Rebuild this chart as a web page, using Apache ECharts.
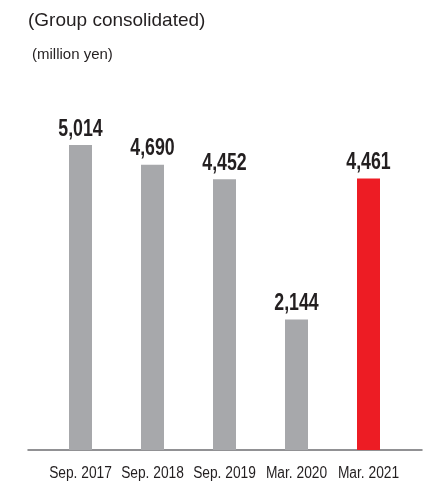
<!DOCTYPE html>
<html>
<head>
<meta charset="utf-8">
<script src="https://cdn.jsdelivr.net/npm/echarts@6/dist/echarts.min.js"></script>
<style>
  html, body { margin: 0; padding: 0; background: #ffffff; }
  #chart { width: 429px; height: 485px; }
</style>
</head>
<body>
<div id="chart"></div>
<script>
// Periods shown along the bottom axis
const periods = ['Sep. 2017', 'Sep. 2018', 'Sep. 2019', 'Mar. 2020', 'Mar. 2021'];
// Values in million yen
const values = [5014, 4690, 4452, 2144, 4461];
// Bar colours: past periods in grey, latest period highlighted in red
const barColors = ['#a7a8ab', '#a7a8ab', '#a7a8ab', '#a7a8ab', '#ed1c24'];

const chart = echarts.init(document.getElementById('chart'), null, { renderer: 'canvas' });

// Condensed text: a regular face squeezed horizontally around its anchor point
function condensedText(x, y, text, font, squeeze, vAlign) {
  return {
    type: 'text',
    x: x,
    y: y,
    scaleX: squeeze,
    style: {
      x: 0, y: 0,
      text: text,
      font: font,
      fill: '#231f20',
      align: 'center',
      verticalAlign: vAlign
    }
  };
}

chart.setOption({
  animation: false,
  backgroundColor: '#ffffff',
  title: [
    {
      text: '(Group consolidated)',
      left: 28, top: 11, padding: 0,
      textStyle: { fontFamily: 'Liberation Sans', fontSize: 19, fontWeight: 'normal', color: '#231f20' }
    },
    {
      text: '(million yen)',
      left: 32, top: 47, padding: 0,
      textStyle: { fontFamily: 'Liberation Sans', fontSize: 15, fontWeight: 'normal', color: '#231f20' }
    }
  ],
  grid: [
    { left: 44.5, right: 24.5, top: 85, bottom: 35 },
    { left: 28, right: 7, top: 85, bottom: 35 }
  ],
  xAxis: [
    {
      type: 'category',
      gridIndex: 0,
      data: periods,
      axisLine: { show: false },
      axisTick: { show: false },
      axisLabel: { show: false }
    },
    {
      type: 'category',
      gridIndex: 1,
      data: [''],
      axisLine: { show: true, lineStyle: { color: '#6d6e71', width: 1.5 } },
      axisTick: { show: false },
      axisLabel: { show: false }
    }
  ],
  yAxis: [
    { type: 'value', gridIndex: 0, min: 0, max: 6000, show: false },
    { type: 'value', gridIndex: 1, min: 0, max: 6000, show: false }
  ],
  series: [
    {
      type: 'bar',
      xAxisIndex: 0,
      yAxisIndex: 0,
      barWidth: 23,
      data: values.map((v, i) => ({ value: v, itemStyle: { color: barColors[i] } }))
    },
    {
      // value labels above the bars and period labels under the axis
      type: 'custom',
      xAxisIndex: 0,
      yAxisIndex: 0,
      silent: true,
      data: values.map((v, i) => [i, v]),
      renderItem: function (params, api) {
        const i = api.value(0);
        const v = api.value(1);
        const top = api.coord([i, v]);
        const base = api.coord([i, 0]);
        return {
          type: 'group',
          children: [
            condensedText(top[0], top[1] - 4, v.toLocaleString('en-US'),
              'bold 24px "Liberation Sans"', 0.74, 'bottom'),
            condensedText(base[0], base[1] + 24, periods[i],
              '16px "Liberation Sans"', 0.86, 'middle')
          ]
        };
      }
    }
  ]
});
</script>
</body>
</html>
